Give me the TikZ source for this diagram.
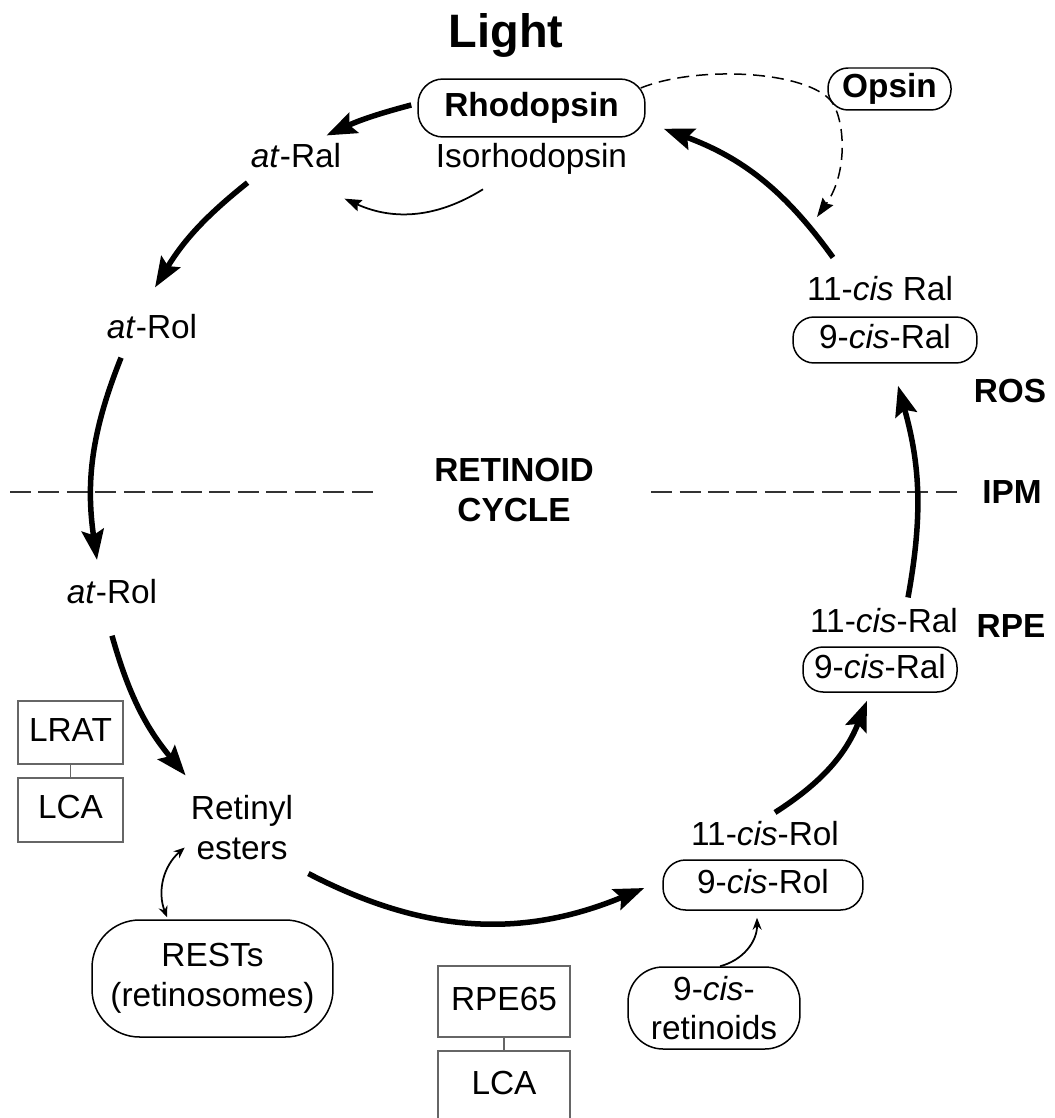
\documentclass[tikz,border=0pt]{standalone}
\usepackage{fontspec}
\setmainfont{Liberation Sans}
\usetikzlibrary{arrows.meta}

\begin{document}
\begin{tikzpicture}[x=0.02cm, y=-0.02cm,
  every node/.style={font=\fontsize{19}{22.7}\selectfont, inner sep=0pt},
  lbl/.style={anchor=base},
  boldtxt/.style={font=\fontsize{19}{22.7}\selectfont\bfseries},
  onetext/.style={text height=0.49cm, text depth=0.14cm},
  pill/.style={draw, line width=0.03cm},
  enzbox/.style={draw=black!60, line width=0.03cm, onetext},
  cycarrow/.style={line width=0.11cm, -{Stealth[length=0.6cm, width=0.44cm, inset=0.1cm]}},
  thinarrow/.style={line width=0.035cm, -{Stealth[length=0.34cm, width=0.24cm, inset=0.05cm]}},
  memline/.style={black!80, line width=0.04cm, dash pattern=on 0.42cm off 0.15cm}]
\useasboundingbox (0,0) rectangle (1054,1118);
%photoreceptor side
\node[lbl, font=\fontsize{26.7}{30}\selectfont\bfseries] (light) at (506,48) {Light};
\node[pill, onetext, boldtxt, rounded corners=0.5cm, minimum width=4.54cm, minimum height=1.16cm] (rhod) at (531.5,108) {Rhodopsin};
\node[lbl] (isorhod) at (531.5,168) {Isorhodopsin};
\node[lbl] (atral) at (296,168) {\textit{at}-Ral};
\node[pill, onetext, boldtxt, rounded corners=0.4cm, minimum width=2.46cm, minimum height=0.84cm] (opsin) at (889.5,89) {Opsin};
\coordinate (bind) at (817,217);
\node[lbl] (atrol1) at (152,338) {\textit{at}-Rol};
\node[lbl] (cisral) at (880,300) {11-\textit{cis} Ral};
\node[pill, onetext, rounded corners=0.42cm, minimum width=3.68cm, minimum height=0.92cm] (ralbox) at (885,340) {9-\textit{cis}-Ral};
%membranes
\draw[memline] (10,492) -- (380,492);
\draw[memline] (651,492) -- (957,492);
\node[align=center, boldtxt] (cycle) at (514,490) {RETINOID\\CYCLE};
\node[lbl, boldtxt] (ros) at (1010,402) {ROS};
\node[lbl, boldtxt] (ipm) at (1012,503) {IPM};
\node[lbl, boldtxt] (rpe) at (1011,637) {RPE};
%RPE side
\node[lbl] (atrol2) at (112,603) {\textit{at}-Rol};
\node[align=center] (retinyl) at (242,828) {Retinyl\\esters};
\node[enzbox, minimum width=2.1cm, minimum height=1.26cm] (lrat) at (70.5,732.5) {LRAT};
\node[enzbox, minimum width=2.1cm, minimum height=1.28cm] (lca1) at (70.5,810) {LCA};
\draw[black!60, line width=0.03cm] (lrat) -- (lca1);
\node[pill, align=center, rounded corners=0.95cm, minimum width=4.82cm, minimum height=2.34cm] (rests) at (212.5,978.5) {RESTs\\(retinosomes)};
\node[enzbox, minimum width=2.64cm, minimum height=1.42cm] (rpe65) at (504,1001.5) {RPE65};
\node[enzbox, minimum width=2.64cm, minimum height=1.4cm] (lca2) at (504,1086) {LCA};
\draw[black!60, line width=0.03cm] (rpe65) -- (lca2);
\node[lbl] (cisrol) at (765,845) {11-\textit{cis}-Rol};
\node[pill, onetext, rounded corners=0.45cm, minimum width=4cm, minimum height=1cm] (rolbox) at (763,885) {9-\textit{cis}-Rol};
\node[pill, align=center, rounded corners=0.7cm, minimum width=3.44cm, minimum height=1.64cm] (retinoids) at (714,1008) {9-\textit{cis}-\\retinoids};
\node[lbl] (cisral2) at (884,632) {11-\textit{cis}-Ral};
\node[pill, onetext, rounded corners=0.4cm, minimum width=3.08cm, minimum height=0.9cm] (ralbox2) at (880,669.5) {9-\textit{cis}-Ral};
%cycle arrows
\draw[cycarrow] ([shift={(-6,-3)}]rhod.west) to[bend right=5] ([shift={(-15,-8)}]atral.north east);
\draw[cycarrow] ([shift={(-3,14)}]atral.south west) to[bend right=10] ([shift={(3,-26)}]atrol1.north);
\draw[cycarrow] ([shift={(14.5,19)}]atrol1.south west) to[bend right=15] ([shift={(-15,-18.5)}]atrol2.north);
\draw[cycarrow] ([shift={(0,32)}]atrol2.south) to[bend right=12] ([shift={(-5,-20)}]retinyl.north west);
\draw[cycarrow] ([shift={(15,13)}]retinyl.south east) to[bend right=25] ([shift={(-18,3)}]rolbox.west);
\draw[cycarrow] ([shift={(10,-8)}]cisrol.north) to[bend right=18] ([shift={(-13,8)}]ralbox2.south);
\draw[cycarrow] ([shift={(24,-10)}]cisral2.north) to[bend right=13] ([shift={(13,22)}]ralbox.south);
\draw[cycarrow] ([shift={(-47,-18)}]cisral.north) to[bend right=17] ([shift={(18,-9)}]rhod.south east);
%side reactions
\draw[thinarrow] ([shift={(-48.5,14)}]isorhod.south) to[bend left=28] ([shift={(3,30)}]atral.south east);
\draw[line width=0.035cm, {Stealth[length=0.22cm, width=0.18cm]}-{Stealth[length=0.22cm, width=0.18cm]}]
  ([shift={(-6,-13)}]retinyl.south west) to[bend right=35] ([shift={(-45.5,-2)}]rests.north);
\draw[line width=0.035cm, -{Stealth[length=0.24cm, width=0.18cm]}] ([shift={(6,0)}]retinoids.north) to[bend right=38] ([shift={(-6,7)}]rolbox.south);
\draw[line width=0.03cm, dash pattern=on 0.24cm off 0.14cm, -{Stealth[length=0.38cm, width=0.26cm, inset=0.05cm]}]
  ([shift={(-5,-20)}]rhod.east) .. controls (695,66) and (800,70) .. ([shift={(2,10)}]opsin.west)
  .. controls (844,113) and (850,170) .. (bind);
\end{tikzpicture}
\end{document}
